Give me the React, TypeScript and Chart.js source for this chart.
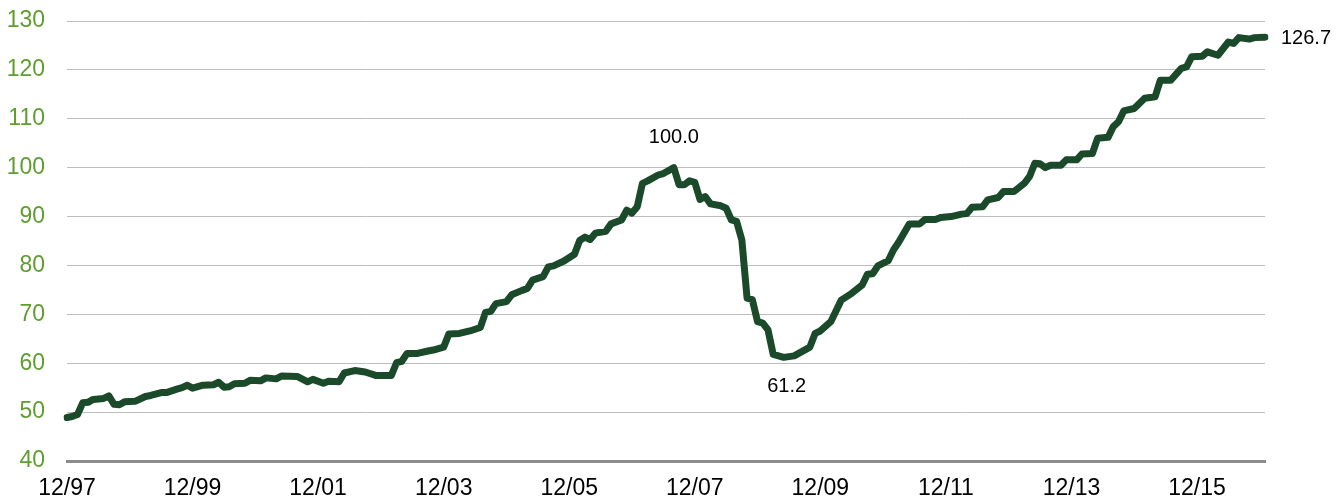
import React, { useEffect, useRef } from "react";
import { Chart, registerables } from "chart.js";

Chart.register(...registerables);

// Monthly categories 12/97 .. 1/17
const firstYear = 1997;
const firstMonth = 12;
const monthCount = 230;
const categories: string[] = [];
for (let i = 0; i < monthCount; i++) {
  const t = firstMonth - 1 + i;
  const mo = (t % 12) + 1;
  const yr = (firstYear + Math.floor(t / 12)) % 100;
  categories.push(`${mo}/${String(yr).padStart(2, "0")}`);
}

const tickLabels = ["12/97", "12/99", "12/01", "12/03", "12/05", "12/07", "12/09", "12/11", "12/13", "12/15"];

const pointDates = [
  "12/97", "1/98", "2/98", "3/98", "4/98", "5/98", "7/98", "8/98", "9/98", "10/98", "11/98",
  "1/99", "3/99", "4/99", "6/99", "7/99", "9/99", "10/99", "11/99", "12/99",
  "2/00", "4/00", "5/00", "6/00", "7/00", "8/00", "10/00", "11/00",
  "1/01", "2/01", "4/01", "5/01", "8/01", "10/01", "11/01",
  "1/02", "2/02", "4/02", "5/02", "7/02", "9/02", "11/02",
  "2/03", "3/03", "4/03", "5/03", "7/03", "9/03", "10/03", "12/03",
  "1/04", "3/04", "5/04", "7/04", "8/04", "9/04", "10/04", "12/04",
  "1/05", "3/05", "4/05", "5/05", "7/05", "8/05", "9/05", "11/05",
  "1/06", "2/06", "3/06", "4/06", "5/06", "7/06", "8/06", "10/06", "11/06", "12/06",
  "1/07", "2/07", "3/07", "5/07", "6/07", "8/07", "9/07", "10/07", "11/07", "12/07",
  "1/08", "2/08", "3/08", "5/08", "6/08", "7/08", "8/08", "9/08", "10/08", "11/08", "12/08",
  "1/09", "2/09", "3/09", "5/09", "7/09", "10/09", "11/09", "12/09",
  "2/10", "4/10", "6/10", "8/10", "9/10", "10/10", "11/10",
  "1/11", "2/11", "3/11", "5/11", "7/11", "8/11", "10/11", "11/11",
  "1/12", "3/12", "4/12", "5/12", "7/12", "8/12", "10/12", "11/12",
  "1/13", "3/13", "4/13", "5/13", "6/13", "7/13", "8/13", "10/13", "11/13",
  "1/14", "2/14", "4/14", "5/14", "7/14", "8/14", "9/14", "10/14", "12/14",
  "2/15", "4/15", "5/15", "7/15", "9/15", "10/15", "11/15",
  "1/16", "2/16", "4/16", "6/16", "7/16", "8/16", "10/16", "11/16", "1/17",
];

const pointValues = [
  48.9, 49.1, 49.5, 51.9, 52.0, 52.6, 52.8, 53.3, 51.6, 51.5, 52.1,
  52.2, 53.2, 53.4, 54.0, 54.0, 54.7, 55.0, 55.5, 54.9,
  55.5, 55.6, 56.1, 55.1, 55.2, 55.8, 55.9, 56.5,
  56.4, 57.0, 56.8, 57.4, 57.3, 56.2, 56.7,
  55.9, 56.3, 56.2, 58.0, 58.5, 58.2, 57.5,
  57.5, 60.1, 60.4, 62.0, 62.0, 62.5, 62.7, 63.3,
  66.0, 66.1, 66.6, 67.3, 70.4, 70.6, 72.2, 72.6,
  74.0, 74.9, 75.3, 77.0, 77.7, 79.7, 79.9, 80.9,
  82.3, 85.1, 85.8, 85.3, 86.6, 87.0, 88.5, 89.3, 91.3, 90.7,
  92.0, 96.8, 97.3, 98.5, 98.8, 100.0, 96.5, 96.5, 97.3, 97.0,
  93.5, 94.1, 92.6, 92.2, 91.7, 89.3, 89.0, 85.2, 73.3, 73.0, 68.5,
  68.2, 66.8, 61.8, 61.2, 61.5, 63.3, 66.1, 66.6,
  68.5, 72.9, 74.3, 76.0, 78.2, 78.3, 79.9,
  81.0, 83.2, 84.8, 88.5, 88.5, 89.4, 89.4, 89.8,
  90.0, 90.5, 90.6, 91.9, 92.0, 93.4, 93.9, 95.1,
  95.1, 96.8, 98.2, 100.9, 100.8, 100.0, 100.5, 100.5, 101.6,
  101.6, 102.8, 102.9, 106.0, 106.2, 108.4, 109.4, 111.6, 112.1,
  114.2, 114.5, 117.9, 117.9, 120.3, 120.6, 122.7,
  122.8, 123.7, 123.0, 125.7, 125.4, 126.6, 126.3, 126.6, 126.7,
];

const noteDates = ["8/07", "5/09", "1/17"];
const noteValues = [100.0, 61.2, 126.7];
const noteTexts = ["100.0", "61.2", "126.7"];

const FONT = "'Liberation Sans', Arial, sans-serif";

const notesPlugin = {
  id: "notes",
  afterDatasetsDraw(chart: any) {
    const { ctx, scales } = chart;
    ctx.save();
    ctx.font = `20px ${FONT}`;
    ctx.fillStyle = "#000000";
    noteDates.forEach((d, i) => {
      const idx = categories.indexOf(d);
      const x = scales.x.getPixelForValue(idx);
      const y = scales.y.getPixelForValue(noteValues[i]);
      ctx.textBaseline = "middle";
      if (i === 0) {
        ctx.textAlign = "center";
        ctx.fillText(noteTexts[i], x, y - 30);
      } else if (i === 1) {
        ctx.textAlign = "center";
        ctx.fillText(noteTexts[i], x + 3, y + 29);
      } else {
        ctx.textAlign = "left";
        ctx.fillText(noteTexts[i], x + 16, y + 1);
      }
    });
    ctx.restore();
  },
};

export default function App() {
  const ref = useRef<HTMLCanvasElement | null>(null);
  useEffect(() => {
    document.body.style.margin = "0";
    if (!ref.current) return;
    const chart = new Chart(ref.current, {
      type: "line",
      data: {
        labels: categories,
        datasets: [
          {
            data: pointDates.map((d, i) => ({ x: d, y: pointValues[i] })),
            borderColor: "#1B4A2A",
            borderWidth: 7,
            pointRadius: 0,
            tension: 0,
            borderJoinStyle: "round",
            borderCapStyle: "round",
            fill: false,
          },
        ],
      },
      options: {
        animation: false,
        responsive: false,
        maintainAspectRatio: false,
        layout: { padding: { left: 7, right: 79, top: 21, bottom: 0 } },
        plugins: { legend: { display: false }, tooltip: { enabled: false } },
        scales: {
          x: {
            type: "category",
            grid: { display: false, drawTicks: false },
            border: { display: true, color: "#8C8C8C", width: 3 },
            afterFit: (s: any) => {
              s.height = 38;
            },
            ticks: {
              autoSkip: false,
              maxRotation: 0,
              minRotation: 0,
              padding: 16,
              color: "#000000",
              font: { family: FONT, size: 23, lineHeight: 1 },
              callback: (_v: any, i: number) => (tickLabels.includes(categories[i]) ? categories[i] : ""),
            },
          },
          y: {
            min: 40,
            max: 130,
            grid: { color: "#BDBDBD", lineWidth: 1, drawTicks: false },
            border: { display: false },
            afterFit: (s: any) => {
              s.width = 60;
              s.paddingTop = 0;
              s.paddingBottom = 0;
            },
            ticks: {
              stepSize: 10,
              padding: 22,
              color: "#5E9E2E",
              font: { family: FONT, size: 23 },
            },
          },
        },
      },
      plugins: [notesPlugin],
    });
    return () => chart.destroy();
  }, []);
  return (
    <div style={{ width: 1344, height: 499 }}>
      <canvas ref={ref} width={1344} height={499} style={{ display: "block", width: 1344, height: 499 }} />
    </div>
  );
}
